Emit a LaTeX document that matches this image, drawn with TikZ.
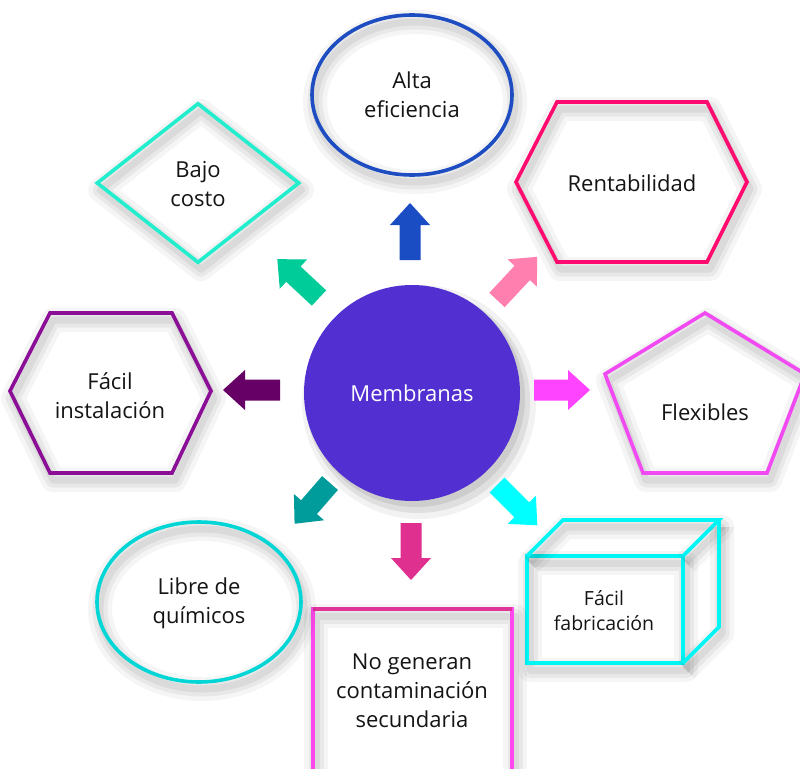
\documentclass[tikz,border=0pt]{standalone}
\usepackage{fontspec}
\setmainfont{Open Sans}
\usetikzlibrary{shapes.geometric}
\definecolor{cblue}{HTML}{1E4DC2}
\definecolor{crent}{HTML}{FF0A6E}
\definecolor{cflex}{HTML}{F24AF2}
\definecolor{ccube}{HTML}{00F5F5}
\definecolor{cnogen}{HTML}{FF48EC}
\definecolor{cnotop}{HTML}{E0359A}
\definecolor{clibre}{HTML}{00D6D6}
\definecolor{cinst}{HTML}{8A0E96}
\definecolor{cbajo}{HTML}{22EECE}
\definecolor{cmemb}{HTML}{512FD0}
\definecolor{aup}{HTML}{1A4CC4}
\definecolor{aul}{HTML}{00CC99}
\definecolor{aur}{HTML}{FF80AF}
\definecolor{ar}{HTML}{FF44FF}
\definecolor{al}{HTML}{660066}
\definecolor{adl}{HTML}{009C9C}
\definecolor{adr}{HTML}{00FFFF}
\definecolor{ad}{HTML}{E0308F}
\tikzset{
  sh/.style={
    preaction={draw=black,draw opacity=0.04,line width=24pt,line join=round,transform canvas={shift={(3pt,-7pt)}}},
    preaction={draw=black,draw opacity=0.05,line width=15pt,line join=round,transform canvas={shift={(3pt,-7pt)}}},
    preaction={draw=black,draw opacity=0.06,line width=7pt,line join=round,transform canvas={shift={(3pt,-7pt)}}}},
  outline/.style={line width=3.6pt},
  lbl/.style={align=center,font=\fontsize{22}{29}\selectfont,text=black!92,inner sep=0pt},
}
\newcommand\blockarrow[5]{\fill[#1,shift={(#2,#3)},rotate=#4] (0,-10.5) -- (#5-22,-10.5) -- (#5-22,-20) -- (#5,0) -- (#5-22,20) -- (#5-22,10.5) -- (0,10.5) -- cycle;}
\begin{document}
\begin{tikzpicture}[x=1pt,y=-1pt]
\useasboundingbox (0,0) rectangle (800,768);
\fill[white] (0,0) rectangle (800,768);

% central circle
\fill[black,opacity=0.05] (419,402) circle (117);
\fill[black,opacity=0.08] (418,401) circle (112);
\fill[black,opacity=0.08] (416,398) circle (109);
\node[circle,fill=cmemb,minimum size=216pt,inner sep=0pt,text=white,font=\fontsize{22}{29}\selectfont] (memb) at (412,393) {Membranas};

% Alta eficiencia
\node[ellipse,draw=cblue,outline,sh,minimum width=200pt,minimum height=160pt,inner sep=0pt] (alta) at (412,95) {};
\node[lbl] (altat) at (412,95) {Alta\\eficiencia};

% Rentabilidad
\draw[crent,outline,sh] (516,182) -- (557,102) -- (707,102) -- (747,182) -- (707,262) -- (557,262) -- cycle;
\node[lbl] (rent) at (632,183) {Rentabilidad};

% Flexibles
\draw[cflex,outline,sh] (705,313) -- (805,374) -- (767,473) -- (643,473) -- (605,374) -- cycle;
\node[lbl] (flex) at (705,412) {Flexibles};

% Facil fabricacion (cube)
\draw[ccube,outline,sh,line join=miter] (527,556) rectangle (683,663);
\draw[ccube,outline,sh,line join=miter] (527,556) -- (563,520) -- (719,520) -- (683,556);
\draw[ccube,outline,sh,line join=miter] (719,520) -- (719,627) -- (683,663);
\node[align=center,font=\fontsize{19.5}{25}\selectfont,text=black!92,inner sep=0pt] (fab) at (604,611) {Fácil\\fabricación};

% No generan
\draw[cnogen,outline,sh] (313,780) -- (313,609) -- (512,609) -- (512,780);
\draw[cnotop,outline] (313,609) -- (512,609);
\node[lbl] (nogen) at (412,691) {No generan\\contaminación\\secundaria};

% Libre de quimicos
\node[ellipse,draw=clibre,outline,sh,minimum width=204pt,minimum height=160pt,inner sep=0pt] (libre) at (199,602) {};
\node[lbl] (libret) at (199,603) {Libre de\\químicos};

% Facil instalacion
\draw[cinst,outline,sh] (10,391) -- (50,313) -- (172,313) -- (211,391) -- (172,473) -- (50,473) -- cycle;
\node[lbl] (inst) at (110,396) {Fácil\\instalación};

% Bajo costo
\node[diamond,draw=cbajo,outline,sh,minimum width=203pt,minimum height=160pt,inner sep=0pt] (bajo) at (198,183) {};
\node[lbl] (bajot) at (198,184) {Bajo\\costo};

% arrows
\blockarrow{aup}{410}{260}{90}{57}
\blockarrow{aul}{319}{298}{137}{57}
\blockarrow{aur}{497}{300}{47}{59}
\blockarrow{ar}{534}{390}{0}{56}
\blockarrow{al}{280}{390}{180}{57}
\blockarrow{adl}{330}{483}{-131}{54}
\blockarrow{adr}{497}{485}{-45}{57}
\blockarrow{ad}{411}{523}{-90}{57}
\end{tikzpicture}
\end{document}
